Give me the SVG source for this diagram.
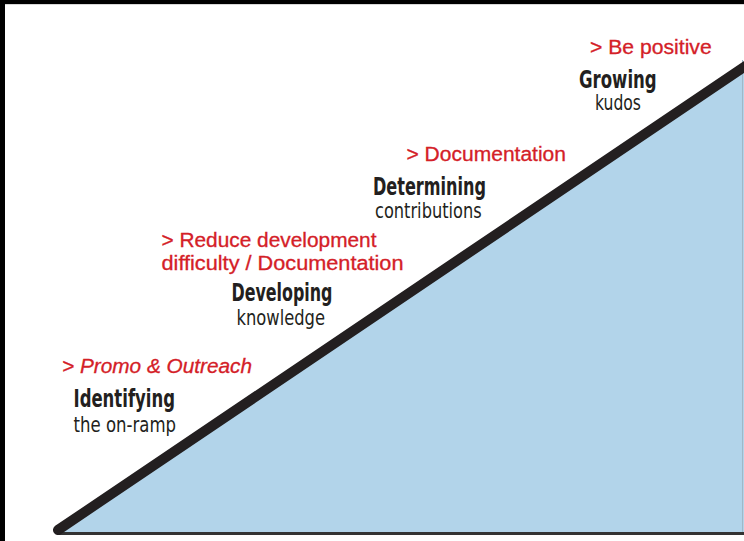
<svg xmlns="http://www.w3.org/2000/svg" width="744" height="541" viewBox="0 0 744 541">
  <style>
    .tip { font-family: "Liberation Sans", Arial, sans-serif; font-size: 20px; fill: #d42027; stroke: #d42027; stroke-width: 0.3px; }
    .tip-i { font-style: italic; }
    .stage { font-family: "DejaVu Sans Condensed", "Liberation Sans", Arial, sans-serif; font-weight: bold; font-size: 24px; fill: #231f20; }
    .sub { font-family: "DejaVu Sans Condensed", "Liberation Sans", Arial, sans-serif; font-size: 21px; fill: #231f20; }
  </style>

  <!-- page -->
  <rect x="0" y="0" width="744" height="541" fill="#ffffff"/>
  <rect x="0" y="0" width="744" height="4" fill="#000000"/>
  <rect x="0" y="0" width="5" height="541" fill="#000000"/>
  <line x1="5" y1="4.5" x2="744" y2="4.5" stroke="#d8d8d8" stroke-width="1"/>

  <!-- ramp -->
  <g id="ramp">
    <polygon points="58,532 744,532 744,67 58,530" fill="#b2d4ea"/>
    <line x1="742.5" y1="60" x2="742.5" y2="532" stroke="#9fb8c8" stroke-width="1"/>
    <line x1="58" y1="533.5" x2="744" y2="533.5" stroke="#333333" stroke-width="3"/>
    <line x1="58" y1="530" x2="760" y2="56.2" stroke="#231f20" stroke-width="10" stroke-linecap="round"/>
  </g>

  <!-- stages along the ramp -->
  <g id="stage-identifying">
    <text class="tip tip-i" x="62" y="373" textLength="190" lengthAdjust="spacingAndGlyphs">&gt; Promo &amp; Outreach</text>
    <text class="stage" x="73.5" y="406.5" textLength="101.5" lengthAdjust="spacingAndGlyphs">Identifying</text>
    <text class="sub" x="73.5" y="431.5" textLength="102.5" lengthAdjust="spacingAndGlyphs">the on-ramp</text>
  </g>

  <g id="stage-developing">
    <text class="tip" x="161.5" y="246.5" textLength="215" lengthAdjust="spacingAndGlyphs">&gt; Reduce development</text>
    <text class="tip" x="161.5" y="270" textLength="242" lengthAdjust="spacingAndGlyphs">difficulty / Documentation</text>
    <text class="stage" x="231.5" y="301" textLength="101" lengthAdjust="spacingAndGlyphs">Developing</text>
    <text class="sub" x="236.5" y="325" textLength="88.5" lengthAdjust="spacingAndGlyphs">knowledge</text>
  </g>

  <g id="stage-determining">
    <text class="tip" x="406.5" y="160.5" textLength="159.5" lengthAdjust="spacingAndGlyphs">&gt; Documentation</text>
    <text class="stage" x="373" y="195" textLength="113" lengthAdjust="spacingAndGlyphs">Determining</text>
    <text class="sub" x="375" y="218.3" textLength="106.7" lengthAdjust="spacingAndGlyphs">contributions</text>
  </g>

  <g id="stage-growing">
    <text class="tip" x="590" y="54.3" textLength="121.7" lengthAdjust="spacingAndGlyphs">&gt; Be positive</text>
    <text class="stage" x="579" y="87.5" textLength="77.7" lengthAdjust="spacingAndGlyphs">Growing</text>
    <text class="sub" x="595" y="110" textLength="46" lengthAdjust="spacingAndGlyphs">kudos</text>
  </g>
</svg>
